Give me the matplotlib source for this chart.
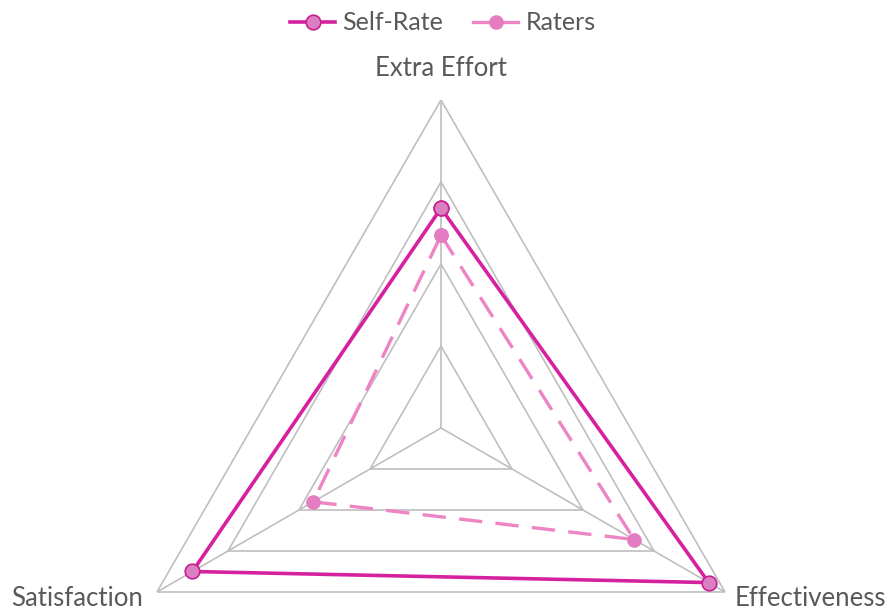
import numpy as np
import matplotlib
matplotlib.use("Agg")
import matplotlib.pyplot as plt
from matplotlib.lines import Line2D

categories = ["Extra Effort", "Effectiveness", "Satisfaction"]
self_rate = [2.68, 3.77, 3.5]
raters = [2.35, 2.72, 1.8]
ring_levels = [1, 2, 3, 4]
r_max = 4

plt.rcParams['font.family'] = ['Lato', 'DejaVu Sans']

fig = plt.figure(figsize=(8.89, 6.11), dpi=100)
ax = fig.add_axes([0.1271, -0.2373, 0.7379, 1.0736], projection='polar')
ax.set_theta_offset(np.pi / 2)
ax.set_theta_direction(-1)
ax.set_ylim(0, r_max)
ax.grid(False)
ax.spines['polar'].set_visible(False)
ax.set_xticks([])
ax.set_yticks([])
ax.patch.set_alpha(0)

n = len(categories)
theta = np.arange(n) * 2 * np.pi / n
theta_closed = np.append(theta, theta[0])

grid_col = '#BFBFBF'
for lv in ring_levels:
    ax.plot(theta_closed, [lv] * (n + 1), color=grid_col, lw=1.2, zorder=1)
for t in theta:
    ax.plot([t, t], [0, r_max], color=grid_col, lw=1.2, zorder=1)

self_closed = self_rate + self_rate[:1]
raters_closed = raters + raters[:1]

ax.plot(theta_closed, raters_closed, color='#EE84C4', lw=2.4, ls=(0, (7, 4)),
        marker='o', markersize=9.5, markerfacecolor='#E37CC0', markeredgecolor='#E37CC0',
        label='Raters', zorder=3)
ax.plot(theta_closed, self_closed, color='#D6219F', lw=2.6,
        marker='o', markersize=10.5, markerfacecolor='#D97FC2', markeredgecolor='#C8208F',
        markeredgewidth=1.2, label='Self-Rate', zorder=4)

# Category labels
lab_col = '#595959'
fs = 18.5
fig.text(441 / 889, 1 - 68 / 611, categories[0], ha='center', va='center', fontsize=fs, color=lab_col)
fig.text(886 / 889, 1 - 598 / 611, categories[1], ha='right', va='center', fontsize=fs, color=lab_col)
fig.text(11 / 889, 1 - 598 / 611, categories[2], ha='left', va='center', fontsize=fs, color=lab_col)

h_self = Line2D([], [], color='#D6219F', lw=2.6, marker='o', markersize=10.5,
                markerfacecolor='#D97FC2', markeredgecolor='#C8208F', markeredgewidth=1.2)
h_rat = Line2D([], [], color='#EE84C4', lw=2.4, marker='o', markersize=9.5,
               markerfacecolor='#E37CC0', markeredgecolor='#E37CC0')
fig.legend([h_self, h_rat], ['Self-Rate', 'Raters'],
           loc='center', bbox_to_anchor=(443 / 889, 1 - 23 / 611), ncol=2, frameon=False,
           fontsize=18, labelcolor=lab_col, handlelength=1.8, columnspacing=1.2,
           handletextpad=0.3)

fig.savefig('out.png', dpi=100)
